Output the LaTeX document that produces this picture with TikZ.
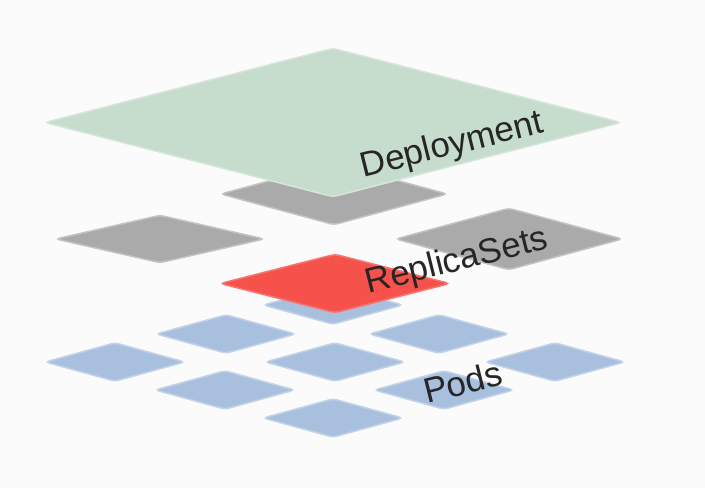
\documentclass[tikz,border=0pt]{standalone}
\usepackage{fontspec}
\setmainfont{Liberation Sans}
\usetikzlibrary{shapes.geometric}

\definecolor{deploygreen}{HTML}{C6DCCC}
\definecolor{rsgray}{HTML}{AAAAAA}
\definecolor{rsred}{HTML}{F5524C}
\definecolor{podblue}{HTML}{A8C0DE}
\definecolor{labeltext}{HTML}{262626}
\definecolor{paper}{HTML}{FBFBFC}

\tikzset{
  tile/.style={diamond,inner sep=0pt,rounded corners=4pt},
  deploytile/.style={tile,fill=deploygreen,draw=deploygreen!70!white,line width=1.5pt,
    minimum width=577pt,minimum height=149pt},
  rstile/.style={tile,fill=rsgray,draw=rsgray!70!white,line width=1.5pt},
  podtile/.style={tile,fill=podblue,draw=podblue!70!white,line width=1.5pt,
    minimum width=140pt,minimum height=39pt},
  layerlabel/.style={text=labeltext,font=\fontsize{35}{40}\selectfont,rotate=14,inner sep=0pt}
}

\begin{document}
\begin{tikzpicture}[x=1pt,y=-1pt]
    % Background
    \fill[paper] (0,0) rectangle (705,488);
    \useasboundingbox (0,0) rectangle (705,488);

    % ReplicaSet hidden behind the Deployment
    \node[rstile,minimum width=227pt,minimum height=62pt] (rsback) at (334,194) {};

    % Deployment
    \node[deploytile] (deploy) at (333,122.5) {};

    % ReplicaSets
    \node[rstile,minimum width=209pt,minimum height=48pt] (rsleft) at (160,239) {};
    \node[rstile,minimum width=227pt,minimum height=62pt] (rsright) at (509,239) {};

    % Pods
    \foreach \name/\x/\y in {pbehind/333/305, pa/226/334, pb/439/334,
        pc/115/362, pd/335/362, pe/555/362, pf/225/390, pg/444/390, ph/333/418}
      \node[podtile] (\name) at (\x,\y) {};

    % Active ReplicaSet
    \node[tile,fill=rsred,draw=rsred!80!white,line width=1.5pt,
      minimum width=230pt,minimum height=59pt] (rsactive) at (335,283.5) {};

    % Labels
    \node[layerlabel] (deploylabel) at (452,146) {Deployment};
    \node[layerlabel] (rslabel) at (457,262) {ReplicaSets};
    \node[layerlabel] (podlabel) at (463,382) {Pods};
\end{tikzpicture}
\end{document}
